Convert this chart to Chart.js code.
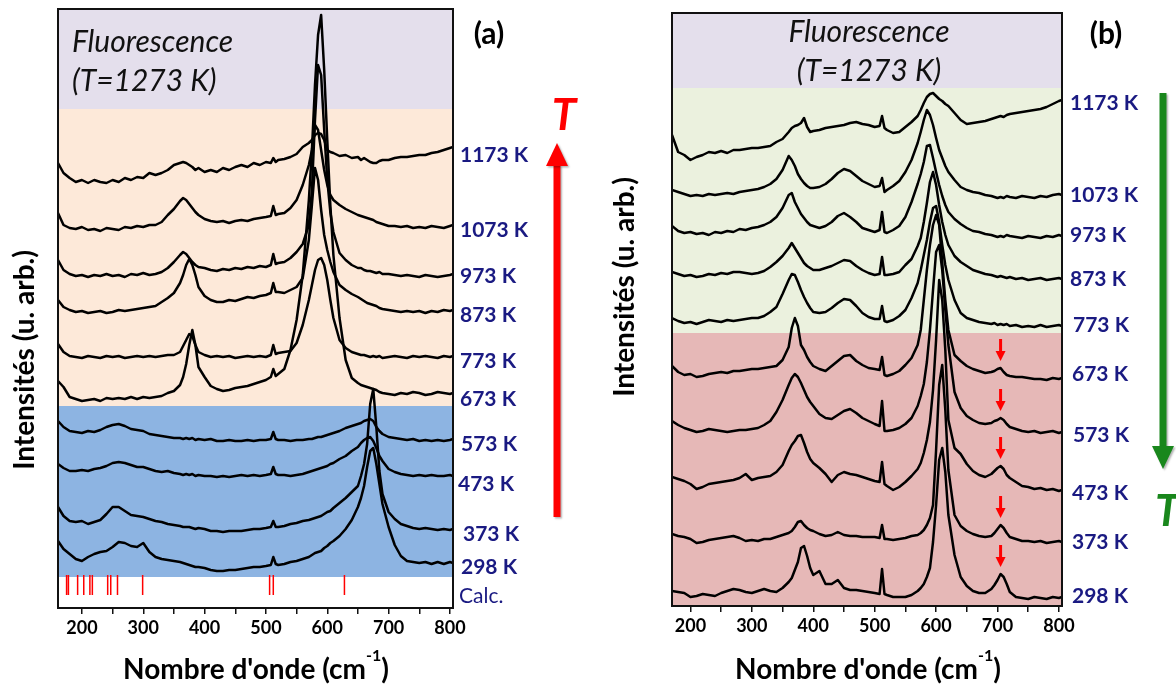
<!DOCTYPE html>
<html>
<head>
<meta charset="utf-8">
<script src="https://cdn.jsdelivr.net/npm/chart.js@4.4.1/dist/chart.umd.min.js"></script>
<style>
body{margin:0;background:#fff;width:1176px;height:688px;overflow:hidden;position:relative}
canvas{position:absolute;top:0}
#chartA{left:0}
#chartB{left:590px}
</style>
</head>
<body>
<canvas id="chartA" width="590" height="688"></canvas>
<canvas id="chartB" width="586" height="688"></canvas>
<script>

// ---------- panel (a) ----------
const nuA=[161,170,180,190,200,210,220,230,240,250,260,270,280,290,300,310,320,330,340,350,360,
365,370,375,380,385,390,
400,410,420,430,440,450,460,470,480,490,500,
508,512,516,520,
530,540,550,560,570,
575,580,585,590,595,600,605,610,
620,630,640,650,
655,660,665,670,675,680,685,690,
700,710,720,730,740,750,760,770,780,790,800,
805]

const tempsA=['1173 K','1073 K','973 K','873 K','773 K','673 K','573 K','473 K','373 K','298 K']
const offsetsA=[428,380,333,297,251,210,176,137,86,47]

const a1173=[17,7,2,-2,0,-3,0,-2,-3,0,-2,2,0,3,2,7,5,7,10,15,17,
18,17,15,13,10,12,
8,10,8,12,10,13,15,13,17,15,18,
17,22,18,20,
21,23,26,33,37,
40,45,47,46,40,30,28,27,
24,25,22,23,
20,22,20,18,17,17,19,20,
20,22,23,23,24,25,25,27,28,30,32,
33]
const a1073=[15,3,0,-1,1,-2,-1,-3,0,-1,-2,1,0,2,1,3,3,6,13,19,27,
30,28,24,20,16,13,
9,7,6,7,5,7,8,7,9,10,11,
12,22,13,14,
15,20,28,43,63,
78,103,98,78,58,43,33,28,
23,19,16,13,
12,11,10,9,8,6,5,4,
2,2,1,2,0,1,0,2,1,0,2,
3]
const a973=[15,5,1,-1,0,-2,0,-1,1,-1,0,-2,1,0,2,0,1,3,7,13,20,
23,21,17,13,10,8,
7,5,4,6,5,7,6,8,7,9,8,
10,21,11,12,
13,17,23,31,50,
85,155,210,200,145,95,63,43,
22,15,10,7,
7,5,4,4,3,2,3,1,
1,0,-1,0,-1,-2,0,-1,-2,-1,0,
1]
const a873=[11,4,1,-1,0,-2,-1,0,-2,-1,1,0,1,2,3,4,5,9,13,18,28,
36,46,52,46,36,24,
15,11,9,9,11,10,12,14,13,15,16,
18,28,19,19,
18,21,24,33,71,
106,143,131,101,76,61,49,39,
26,21,17,14,
12,10,8,7,6,5,3,2,
1,0,-1,0,-1,0,-2,0,-1,1,0,
1]
const a773=[13,5,1,0,-1,1,0,-1,1,0,1,-1,0,1,0,1,0,1,2,2,5,
11,17,23,21,12,5,
2,0,1,0,1,-1,0,1,0,1,0,
2,12,3,4,
5,6,14,32,57,
72,87,97,99,92,77,57,39,
17,9,5,3,
2,2,1,0,1,0,1,-1,
0,1,0,-1,1,0,1,0,-1,1,0,
1]
const a673=[17,11,1,-1,-3,-2,-1,-3,0,-1,0,-1,1,-1,1,0,1,2,5,7,13,
21,34,53,68,53,31,
21,12,9,7,8,10,11,12,14,16,18,
21,29,22,24,
29,48,78,123,198,
248,313,363,383,328,258,193,143,
80,38,20,15,
13,12,11,10,9,8,6,5,
4,3,5,4,6,5,3,4,6,5,4,
5]
const a573=[11,5,1,0,-1,1,0,2,5,7,8,6,3,2,1,-2,-3,-4,-5,-6,-6,
-7,-6,-7,-6,-8,-7,
-8,-7,-9,-9,-8,-9,-9,-8,-9,-8,-8,
-7,0,-7,-8,
-8,-9,-8,-8,-7,
-7,-6,-5,-5,-4,-3,-2,-1,
1,4,6,8,
9,11,12,13,11,5,1,-2,
-5,-6,-7,-8,-7,-9,-8,-9,-8,-9,-8,
-7]
const a473=[7,3,0,0,1,0,2,3,5,8,9,8,6,4,4,2,0,-1,0,-2,-3,
-4,-3,-4,-3,-5,-4,
-5,-5,-6,-5,-6,-5,-4,-5,-4,-5,-4,
-3,4,-3,-4,
-4,-5,-4,-3,-1,
0,1,2,3,4,5,7,8,
12,15,20,24,
28,31,33,34,30,23,15,10,
2,-1,-3,-4,-5,-4,-5,-4,-5,-5,-4,
-5]
const a373=[15,6,1,0,1,-2,0,2,8,15,15,11,7,6,5,3,1,0,-2,-3,-4,
-5,-5,-5,-6,-7,-6,
-7,-9,-9,-10,-9,-9,-9,-8,-7,-7,-6,
-5,1,-5,-5,
-4,-2,-1,1,2,
3,4,5,6,8,10,11,14,
19,24,30,36,
46,58,78,118,133,95,51,28,
10,3,-2,-4,-6,-7,-6,-7,-8,-7,-8,
-7]
const a298=[20,12,7,2,0,4,7,9,10,14,19,18,15,14,18,9,4,2,1,0,-1,
-2,-3,-4,-5,-6,-6,
-7,-9,-10,-10,-9,-9,-8,-7,-6,-6,-5,
-4,4,-3,-4,
-3,-1,0,2,4,
6,8,9,10,13,15,18,20,
25,32,41,54,
63,75,94,110,113,97,77,57,
34,16,5,0,-1,-2,-1,-3,-1,-3,-1,
-2]
const profilesA=[a1173,a1073,a973,a873,a773,a673,a573,a473,a373,a298]

// calculated mode positions (cm-1)
const calcA=[175,178,193,203,213,217,242,247,258,299,506,512,628]

// ---------- panel (b) ----------
const nuB=[170,180,190,200,210,220,230,240,250,260,270,280,290,300,310,320,330,340,350,360,
365,370,375,380,385,390,395,
400,410,420,430,440,450,460,470,480,490,500,
508,512,516,520,
530,540,550,560,570,
575,580,585,590,595,600,605,610,615,
620,630,640,650,660,670,680,690,
695,700,705,710,715,720,
730,740,750,760,770,780,790,800,
805]

const tempsB=['1173 K','1073 K','973 K','873 K','773 K','673 K','573 K','473 K','373 K','298 K']
const offsetsB=[456,410,372,328,283,229,174,116,65,11]

const b1173=[15,-2,-5,-10,-7,-5,-2,-3,-1,-3,0,0,1,2,2,3,4,8,11,18,
22,24,25,27,32,23,18,
19,20,22,23,24,25,27,28,26,25,23,
24,34,22,20,
17,18,23,28,34,
40,47,53,56,57,54,51,49,46,
44,37,30,26,27,28,29,31,
32,33,34,33,35,36,
37,38,39,40,41,43,46,49,
50]
const b1073=[6,4,2,0,1,0,2,1,2,3,2,4,5,6,7,9,12,17,26,40,
36,30,22,17,13,10,8,
8,9,12,17,23,27,25,20,15,12,9,
10,18,4,6,
10,15,24,36,53,
64,76,86,81,71,58,46,38,30,
24,16,9,6,4,3,1,0,
-1,-2,-1,-2,0,-1,
-2,0,-1,-2,0,-1,1,2,
1]
const b973=[8,3,1,2,0,1,-1,2,1,3,2,5,4,6,7,9,12,17,26,39,
41,32,26,20,16,12,9,
8,6,8,12,18,21,17,12,6,4,2,
4,22,2,1,
4,8,17,32,50,
60,72,88,89,76,62,49,38,29,
22,15,10,6,3,2,0,-1,
-2,-3,-2,-3,-1,-2,
-3,-4,-2,-3,-4,-2,-3,-1,
-2]
const b873=[6,4,2,3,1,2,4,3,5,4,6,6,5,4,5,7,11,16,22,30,
35,30,25,20,15,12,10,
8,8,10,12,15,18,17,12,8,5,3,
4,21,3,3,
4,6,13,19,32,
40,56,75,96,106,93,73,56,43,
33,22,16,12,8,6,4,3,
2,1,2,1,0,1,
-1,0,-2,-1,0,-2,-1,0,
-1]
const b773=[5,2,0,1,-1,1,3,2,1,3,2,3,4,5,5,7,11,16,29,43,
49,48,41,33,26,20,15,
11,10,11,15,20,24,23,17,10,6,4,
4,17,2,1,
3,7,13,25,40,
53,68,83,101,115,117,101,78,58,
43,23,10,5,3,1,0,-1,
0,-2,-1,-2,-1,-3,
-2,-4,-3,-4,-2,-4,-3,-2,
-3]
const b673=[11,5,2,3,0,1,3,4,5,4,6,6,7,8,8,9,10,11,17,30,
49,59,51,32,27,20,15,
11,8,6,11,16,21,22,16,12,9,8,
7,20,2,1,
3,6,12,19,32,
47,77,107,132,152,162,152,115,77,
47,22,16,11,8,6,4,5,
6,8,9,5,2,1,
0,0,-1,-2,-2,-3,-1,-2,
-1]
const b573=[11,7,4,2,0,1,3,2,1,0,1,2,2,3,4,7,11,20,32,47,
54,58,55,49,42,35,30,
26,18,14,13,17,21,23,19,14,11,8,
6,31,1,1,
2,4,8,14,26,
36,48,70,102,142,180,187,162,122,
87,40,24,16,12,9,8,9,
11,12,14,12,8,5,
3,1,0,1,-1,0,1,-1,
0]
const b473=[13,11,9,6,1,3,6,7,8,9,10,12,16,10,12,13,14,18,25,39,
45,49,54,55,47,38,31,
27,22,16,8,15,18,16,15,13,11,9,
8,28,6,4,
0,3,8,14,21,
27,37,50,68,100,150,210,190,140,
70,42,36,26,19,15,13,16,
19,22,24,21,15,12,
8,4,3,1,2,0,1,-1,
0]
const b373=[7,5,4,2,-2,-1,1,2,3,4,5,3,0,1,0,2,2,4,6,8,
10,14,19,20,16,13,11,
10,7,5,6,9,6,5,5,4,4,4,
3,16,2,2,
1,2,3,5,6,
8,11,16,23,36,91,156,176,131,
71,26,15,10,7,5,4,5,
8,12,16,13,8,4,
2,0,0,-1,0,-2,-1,0,
-1]
const b298=[4,3,2,-2,-1,1,0,-1,2,4,6,5,3,2,4,6,4,3,7,13,
17,25,33,47,49,39,27,
20,24,11,11,15,7,5,5,4,3,2,
1,26,1,0,
-2,-2,-2,0,4,
7,11,18,27,53,90,135,147,123,
80,40,18,9,4,2,2,6,
10,15,21,18,11,3,
-2,-3,-4,-2,-3,-4,-2,-3,
-2]
const profilesB=[b1173,b1073,b973,b873,b773,b673,b573,b473,b373,b298]

// spectra marked with a small red arrow (band near 705 cm-1)
const arrowTempsB=['673 K','573 K','473 K','373 K','298 K']
const arrowNuB=705


// ---------- layout / style ----------
const FONT='Lato'
const NAVY='#1a1a82'

const layoutA={
  xMin:161,xMax:805,yMax:599,axisH:80,
  pad:{left:58,right:137,top:9,bottom:0},
  bands:[[499,599,'#e4dfec'],[202,499,'#fde9d9'],[31,202,'#8db4e2']],
  labelX:[460,460,460,460,460,460,461,458,463,461],
  labelY:[154,229,275,314,360,398,443,483,533,566]
}
const layoutB={
  xMin:170,xMax:805,yMax:593,axisH:82,
  pad:{left:82,right:114,top:13,bottom:0},
  bands:[[518,593,'#e4dfec'],[273,518,'#ebf1de'],[0,273,'#e6b8b7']],
  labelX:[480,480,480,480,483,482,483,482,482,482],
  labelY:[102,194,234,278,324,373,434,492,541,595]
}


function spectra(nu,temps,offsets,profiles){
  return temps.map((t,i)=>({
    label:t,
    data:nu.map((x,j)=>({x:x,y:offsets[i]+profiles[i][j]})),
    borderColor:'#000',
    borderWidth:2.5,
    borderJoinStyle:'round',
    pointRadius:0,
    tension:0,
    fill:false
  }))
}

function txt(ctx,s,x,y,font,color,align){
  ctx.font=font
  ctx.fillStyle=color
  ctx.textAlign=align||'left'
  ctx.textBaseline='alphabetic'
  ctx.fillText(s,x,y)
}

function xTitle(ctx,cx,base){
  const big='bold 28px '+FONT, small='bold 16px '+FONT
  const main="Nombre d'onde (cm"
  ctx.font=big
  const w1=ctx.measureText(main).width, w3=ctx.measureText(')').width
  ctx.font=small
  const w2=ctx.measureText('-1').width
  let x=cx-(w1+w2+w3)/2
  txt(ctx,main,x,base,big,'#000')
  txt(ctx,'-1',x+w1,base-18,small,'#000')
  txt(ctx,')',x+w1+w2,base,big,'#000')
}

function yTitle(ctx,x,cy){
  ctx.save()
  ctx.translate(x,cy)
  ctx.rotate(-Math.PI/2)
  txt(ctx,'Intensités (u. arb.)',0,0,'bold 28px '+FONT,'#000','center')
  ctx.restore()
}

function bigArrow(ctx,x,yTail,yTip,color){
  const dir=yTip<yTail?1:-1
  ctx.save()
  ctx.shadowColor='rgba(0,0,0,0.3)'
  ctx.shadowBlur=2
  ctx.shadowOffsetX=1.5
  ctx.shadowOffsetY=1.5
  ctx.fillStyle=color
  ctx.fillRect(x-3.5,Math.min(yTail,yTip+dir*22),7,Math.abs(yTail-(yTip+dir*22)))
  ctx.beginPath()
  ctx.moveTo(x,yTip)
  ctx.lineTo(x-11,yTip+dir*23)
  ctx.lineTo(x+11,yTip+dir*23)
  ctx.closePath()
  ctx.fill()
  ctx.restore()
}

function smallArrow(ctx,x,tip){
  ctx.fillStyle='#ff0000'
  ctx.fillRect(x-1.5,tip-22,3,13)
  ctx.beginPath()
  ctx.moveTo(x,tip)
  ctx.lineTo(x-5,tip-10)
  ctx.lineTo(x+5,tip-10)
  ctx.closePath()
  ctx.fill()
}

function decor(lay,extra){
  return {
    id:'decor',
    beforeDraw(chart){
      const ctx=chart.ctx, a=chart.chartArea, y=chart.scales.y
      ctx.save()
      lay.bands.forEach(b=>{
        const top=y.getPixelForValue(b[1]), bot=y.getPixelForValue(b[0])
        ctx.fillStyle=b[2]
        ctx.fillRect(a.left,top,a.right-a.left,bot-top)
      })
      ctx.restore()
    },
    afterDatasetsDraw(chart){
      const ctx=chart.ctx, a=chart.chartArea
      ctx.save()
      ctx.strokeStyle='#111'
      ctx.lineWidth=2
      ctx.strokeRect(a.left,a.top,a.right-a.left,a.bottom-a.top)
      ctx.restore()
    },
    afterDraw(chart){
      const ctx=chart.ctx
      ctx.save()
      lay.labelY.forEach((cy,i)=>{
        txt(ctx,chart.data.datasets[i].label,lay.labelX[i],cy+8,'bold 21px '+FONT,NAVY)
      })
      extra(chart,ctx)
      ctx.restore()
    }
  }
}

function makeChart(id,nu,temps,offsets,profiles,lay,more,extra){
  const ds=spectra(nu,temps,offsets,profiles).concat(more)
  return new Chart(document.getElementById(id),{
    type:'line',
    data:{datasets:ds},
    options:{
      responsive:false,
      animation:false,
      devicePixelRatio:1,
      events:[],
      layout:{padding:lay.pad},
      plugins:{legend:{display:false},tooltip:{enabled:false}},
      scales:{
        x:{
          type:'linear',
          min:lay.xMin,
          max:lay.xMax,
          afterFit:s=>{s.height=lay.axisH},
          ticks:{
            stepSize:50,
            includeBounds:false,
            autoSkip:false,
            maxRotation:0,
            padding:3,
            color:'#000',
            font:{family:FONT,size:18,weight:'bold'},
            callback:v=>v%100===0?v:''
          },
          grid:{drawOnChartArea:false,drawTicks:true,tickLength:6,color:'#111',lineWidth:1.5},
          border:{display:true,color:'#111',width:2}
        },
        y:{display:false,min:0,max:lay.yMax}
      }
    },
    plugins:[decor(lay,extra)]
  })
}


// calc. sticks for panel (a): one short red segment per mode
let calcData=[]
calcA.forEach(c=>{
  calcData.push({x:c,y:13},{x:c,y:33},{x:c,y:null})
})
const calcSet={
  label:'Calc.',
  data:calcData,
  borderColor:'#ff0000',
  borderWidth:1.5,
  pointRadius:0,
  spanGaps:false,
  fill:false
}

makeChart('chartA',nuA,tempsA,offsetsA,profilesA,layoutA,[calcSet],(chart,ctx)=>{
  txt(ctx,'Calc.',459,603,'21px '+FONT,NAVY)
  txt(ctx,'Fluorescence',72,52,'italic 30px '+FONT,'#111')
  txt(ctx,'(T=1273 K)',72,91,'italic 30px '+FONT,'#111')
  txt(ctx,'(a)',489,44,'bold 30px '+FONT,'#000','center')
  bigArrow(ctx,557,517,143,'#ff0000')
  txt(ctx,'T',564,130,'italic bold 44px '+FONT,'#ff0000','center')
  yTitle(ctx,34,360)
  xTitle(ctx,256,679)
})

makeChart('chartB',nuB,tempsB,offsetsB,profilesB,layoutB,[],(chart,ctx)=>{
  txt(ctx,'Fluorescence',279,42,'italic 30px '+FONT,'#111','center')
  txt(ctx,'(T=1273 K)',279,81,'italic 30px '+FONT,'#111','center')
  txt(ctx,'(b)',516,44,'bold 30px '+FONT,'#000','center')
  bigArrow(ctx,573,93,469,'#19871c')
  txt(ctx,'T',565,526,'italic bold 44px '+FONT,'#19871c')
  yTitle(ctx,44,287)
  xTitle(ctx,278,679)
  // small red arrows above the ~705 cm-1 band
  const xs=chart.scales.x, ys=chart.scales.y
  const k=nuB.indexOf(arrowNuB)
  arrowTempsB.forEach(t=>{
    const i=tempsB.indexOf(t)
    const v=offsetsB[i]+profilesB[i][k]
    smallArrow(ctx,xs.getPixelForValue(arrowNuB),ys.getPixelForValue(v)-7)
  })
})

</script>
</body>
</html>
